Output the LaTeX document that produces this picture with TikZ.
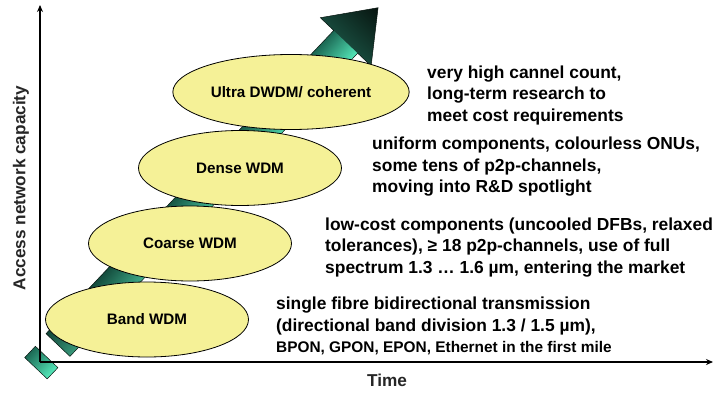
\documentclass[tikz,border=0pt]{standalone}
\usepackage{fontspec}
\setmainfont{Liberation Sans}
\usepackage{xcolor}
\usepackage{tikz}
\usetikzlibrary{shapes.geometric,arrows.meta,fadings}

\definecolor{wdmyellow}{HTML}{F5F197}
\definecolor{arrlight}{HTML}{55E8BA}
\definecolor{arrmid}{HTML}{1C6A55}
\definecolor{arrhead}{HTML}{17473A}
\definecolor{arrdark}{HTML}{07140F}

\tikzset{
  wdm/.style={ellipse, draw=black, line width=0.8pt, fill=wdmyellow,
    minimum width=203pt, minimum height=75pt,
    font=\fontsize{15.2}{18}\selectfont\bfseries},
  note/.style={anchor=west, align=left, inner sep=0pt,
    font=\fontsize{17.4}{21.5}\selectfont\bfseries},
  axis/.style={line width=2pt, -{Stealth[length=7pt,width=6pt]}},
  axislabel/.style={font=\fontsize{17.2}{20}\selectfont\bfseries, text=black!85},
}

\begin{document}
\begin{tikzpicture}[x=1pt,y=1pt]
\useasboundingbox (0,0) rectangle (714,392);

% growth arrow behind the ellipses (drawn along its own axis)
\begin{scope}[transform canvas={shift={(58pt,47pt)}, rotate=46.5}]
  \shade[top color=arrmid, bottom color=arrlight] (0,-16.5) rectangle (419,16.5);
  \fill[black, opacity=0.35, path fading=east] (0,-16.5) rectangle (419,16.5);
  \shade[left color=arrhead, right color=arrdark] (418,-35) -- (465,0) -- (418,35) -- cycle;
  \draw[arrdark, line width=0.5pt] (0,-16.5) -- (418,-16.5) -- (418,-35) -- (465,0)
    -- (418,35) -- (418,16.5) -- (0,16.5) -- cycle;
  % tail piece
  \shade[draw=arrdark, line width=0.5pt, top color=arrmid, bottom color=arrlight]
    (-32,-15.5) rectangle (-16.5,15.5);
\end{scope}

% axes
\coordinate (O) at (40,30);
\coordinate (ytop) at (40,387);
\coordinate (xend) at (713,30);
\draw[axis] (O) -- (ytop);
\draw[axis] (O) -- (xend);
\node[axislabel, rotate=90] (ylab) at (21,204) {Access network capacity};
\node[axislabel] (xlab) at (387,12) {Time};

% WDM steps
\node[wdm] (band)   at (147,72.5)  {Band WDM};
\node[wdm] (coarse) at (190,148.5) {Coarse WDM};
\node[wdm] (dense)  at (240,224)   {Dense WDM};
\node[wdm] (ultra)  at (291,300)   {Ultra DWDM/ coherent};

% descriptions
\node[note] (ultratxt) at (427,297) {very high cannel count,\\long-term research to\\meet cost requirements};
\node[note] (densetxt) at (372,225) {uniform components, colourless ONUs,\\some tens of p2p-channels,\\moving into R\&D spotlight};
\node[note] (coarsetxt) at (325,144.5) {low-cost components (uncooled DFBs, relaxed\\tolerances), ≥ 18 p2p-channels, use of full\\spectrum 1.3 … 1.6 µm, entering the market};
\node[note] (bandtxt) at (276,66) {single fibre bidirectional transmission\\(directional band division 1.3 / 1.5 µm),\\{\fontsize{15.4}{18}\selectfont BPON, GPON, EPON, Ethernet in the first mile}};

\end{tikzpicture}
\end{document}
